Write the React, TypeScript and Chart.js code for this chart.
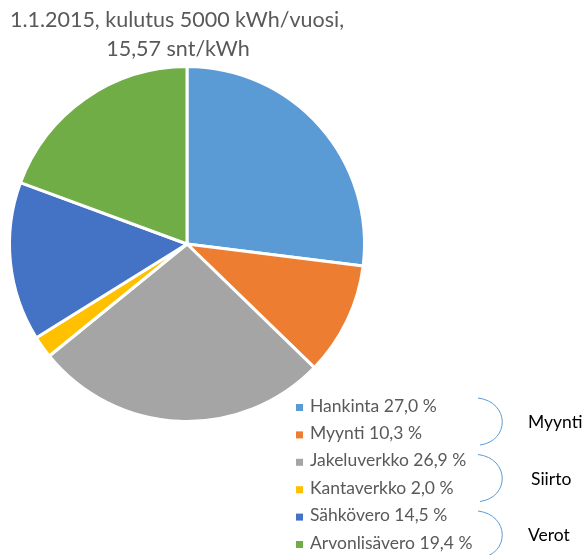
import React, { useEffect, useRef } from "react";
import { Chart, registerables } from "chart.js";

Chart.register(...registerables);

const titleLines = ["1.1.2015, kulutus 5000 kWh/vuosi,", "15,57 snt/kWh"];
const categories = ["Hankinta", "Myynti", "Jakeluverkko", "Kantaverkko", "Sähkövero", "Arvonlisävero"];
const shares = [27.0, 10.3, 26.9, 2.0, 14.5, 19.4];
const colors = ["#5B9BD5", "#ED7D31", "#A5A5A5", "#FFC000", "#4472C4", "#70AD47"];
const groups = ["Myynti", "Siirto", "Verot"];

const FONT = "Lato, 'Open Sans', sans-serif";

const overlayPlugin = {
  id: "overlay",
  afterDraw(chart: any) {
    const ctx = chart.ctx as CanvasRenderingContext2D;
    ctx.save();
    // title
    ctx.fillStyle = "#595959";
    ctx.font = `21.5px ${FONT}`;
    ctx.textAlign = "center";
    ctx.textBaseline = "alphabetic";
    ctx.fillText(titleLines[0], 177, 27);
    ctx.fillText(titleLines[1], 178, 56);

    // legend
    const rowY0 = 406;
    const rowStep = 27.4;
    ctx.font = `17.5px ${FONT}`;
    ctx.textAlign = "left";
    ctx.textBaseline = "middle";
    categories.forEach((c, i) => {
      const y = rowY0 + i * rowStep;
      ctx.fillStyle = colors[i];
      ctx.fillRect(296, y - 2, 7, 7);
      ctx.fillStyle = "#595959";
      ctx.fillText(`${c} ${shares[i].toFixed(1).replace(".", ",")} %`, 310, y);
    });

    // braces and group labels
    ctx.strokeStyle = "#5B9BD5";
    ctx.lineWidth = 1;
    groups.forEach((g, k) => {
      const yTop = 398 + k * 56.5;
      const yBot = yTop + 47;
      const yMid = (yTop + yBot) / 2;
      ctx.beginPath();
      ctx.moveTo(478, yTop);
      ctx.bezierCurveTo(510, yTop + 4, 510, yBot - 4, 480, yBot);
      ctx.stroke();
      ctx.fillStyle = "#000000";
      ctx.font = `17.5px ${FONT}`;
      ctx.fillText(g, k === 1 ? 531 : 528, yMid + 1);
    });
    ctx.restore();
  },
};

export default function App() {
  const ref = useRef<HTMLCanvasElement>(null);
  useEffect(() => {
    document.body.style.margin = "0";
    const chart = new Chart(ref.current!, {
      type: "pie",
      data: {
        labels: categories,
        datasets: [
          {
            data: shares,
            backgroundColor: colors,
            borderColor: "#ffffff",
            borderWidth: 3,
          },
        ],
      },
      options: {
        animation: false,
        responsive: false,
        maintainAspectRatio: false,
        layout: { padding: { left: 8, right: 220, top: 65, bottom: 132 } },
        plugins: {
          legend: { display: false },
          title: { display: false },
          tooltip: { enabled: false },
        },
      },
      plugins: [overlayPlugin],
    });
    return () => chart.destroy();
  }, []);
  return (
    <div style={{ position: "absolute", left: 0, top: 0, width: 586, height: 555 }}>
      <canvas ref={ref} width={586} height={555} style={{ width: 586, height: 555 }} />
    </div>
  );
}
